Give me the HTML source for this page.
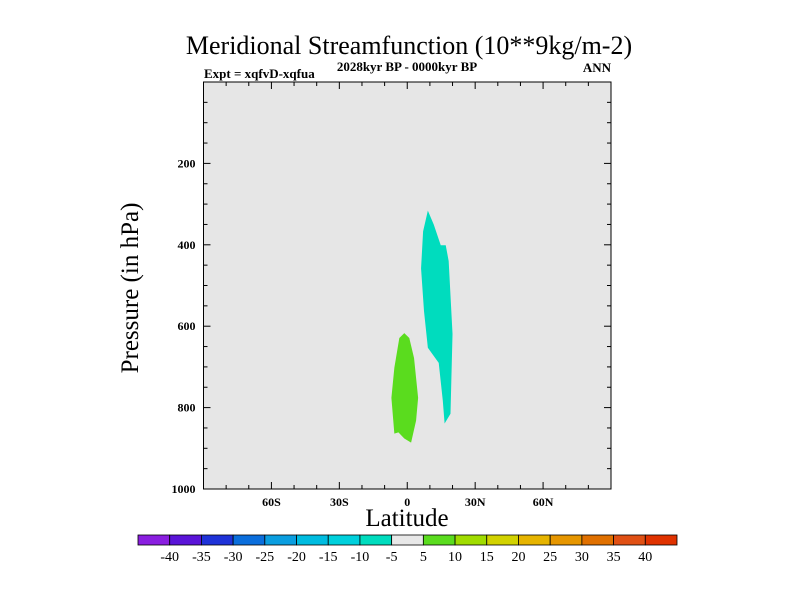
<!DOCTYPE html>
<html><head><meta charset="utf-8"><style>
body{margin:0;background:#fff;}
svg text{font-family:"Liberation Serif",serif;fill:#000;}
</style></head><body>
<svg width="800" height="600" xmlns="http://www.w3.org/2000/svg">
<text x="409" y="54" font-size="26" text-anchor="middle">Meridional Streamfunction (10**9kg/m-2)</text>
<text x="204" y="78" font-size="13" font-weight="bold">Expt = xqfvD-xqfua</text>
<text x="407" y="71" font-size="13" font-weight="bold" text-anchor="middle">2028kyr BP - 0000kyr BP</text>
<text x="611" y="72" font-size="13" font-weight="bold" text-anchor="end">ANN</text>
<g id="plot"></g>
<text x="407" y="526" font-size="25" text-anchor="middle">Latitude</text>
<text transform="translate(138,288) rotate(-90)" font-size="25" text-anchor="middle">Pressure (in hPa)</text>
<g id="cbar"></g>
</svg>
<script>
const NS="http://www.w3.org/2000/svg";
const xTickVals=[-60,-30,0,30,60];
const xTickLabels=["60S","30S","0","30N","60N"];
const yTickVals=[200,400,600,800,1000];
const levels=[-40,-35,-30,-25,-20,-15,-10,-5,5,10,15,20,25,30,35,40];
const colors=["#8a1ee0","#5a14d8","#1e32d8","#0a6edc","#0a9ee0","#00bce0","#00d0dc","#00dcbe","#e8e8e8","#5adc1e","#a0dc00","#d2d200","#e6b400","#e69600","#e07000","#e05014","#e03200"];
const cyanLat=[9.1,7.0,6.1,7.4,9.1,13.9,15.7,16.5,19.1,20,18.3,17,14.8,11.7];
const cyanP=[316,367,458,563,653,690,783,839,815,619,440,401,401,350];
const greenLat=[-1.3,-3.5,-5.7,-7,-5.7,-3.9,-1.3,1.7,3.9,4.8,3,0.9];
const greenP=[617,629,702,776,864,861,876,886,832,776,678,629];
const X0=203.5,X1=611,Y0=82,Y1=489;
const sx=v=>X0+(v+90)/180*(X1-X0);
const sy=p=>Y0+p/1000*(Y1-Y0);
function mk(tag,attrs,parent){const e=document.createElementNS(NS,tag);for(const k in attrs)e.setAttribute(k,attrs[k]);parent.appendChild(e);return e;}
const plot=document.getElementById('plot');
let bg=mk('rect',{x:X0,y:Y0,width:X1-X0,height:Y1-Y0,fill:'#e6e6e6'},plot);


function poly(lats,ps,fill,name){
  const pts=lats.map((l,i)=>sx(l)+','+sy(ps[i])).join(' ');
  const e=mk('polygon',{points:pts,fill:fill},plot);
  
  
}
poly(cyanLat,cyanP,colors[7],'contour-negative-cell');
poly(greenLat,greenP,colors[9],'contour-positive-cell');
let fr=mk('rect',{x:X0,y:Y0,width:X1-X0,height:Y1-Y0,fill:'none',stroke:'#000','stroke-width':1},plot);


for(let v=-80;v<=80;v+=10){
  const major=v%30===0, L=major?7:4;
  mk('line',{x1:sx(v),x2:sx(v),y1:Y1,y2:Y1-L,stroke:'#000'},plot);
  mk('line',{x1:sx(v),x2:sx(v),y1:Y0,y2:Y0+L,stroke:'#000'},plot);
}
xTickVals.forEach((v,i)=>{
  const t=mk('text',{x:sx(v),y:Y1+17,'font-size':12,'font-weight':'bold','text-anchor':'middle'},plot);
  t.textContent=xTickLabels[i];
  
  
});
for(let p=50;p<1000;p+=50){
  const major=p%200===0, L=major?7:4;
  mk('line',{x1:X0,x2:X0+L,y1:sy(p),y2:sy(p),stroke:'#000'},plot);
  mk('line',{x1:X1,x2:X1-L,y1:sy(p),y2:sy(p),stroke:'#000'},plot);
}
yTickVals.forEach(v=>{
  const t=mk('text',{x:X0-8,y:sy(v)+4,'font-size':12,'font-weight':'bold','text-anchor':'end'},plot);
  t.textContent=String(v);
  
  
});
const cb=document.getElementById('cbar');
const CX0=138,CX1=677,CY=535,CH=10,bw=(CX1-CX0)/colors.length;
colors.forEach((c,i)=>{
  const r=mk('rect',{x:CX0+i*bw,y:CY,width:bw,height:CH,fill:c,stroke:'#000','stroke-width':0.8},cb);
  
  
});
levels.forEach((v,i)=>{
  const t=mk('text',{x:CX0+(i+1)*bw,y:CY+26,'font-size':14,'text-anchor':'middle'},cb);
  t.textContent=String(v);
  
  
});
</script>
</body></html>
